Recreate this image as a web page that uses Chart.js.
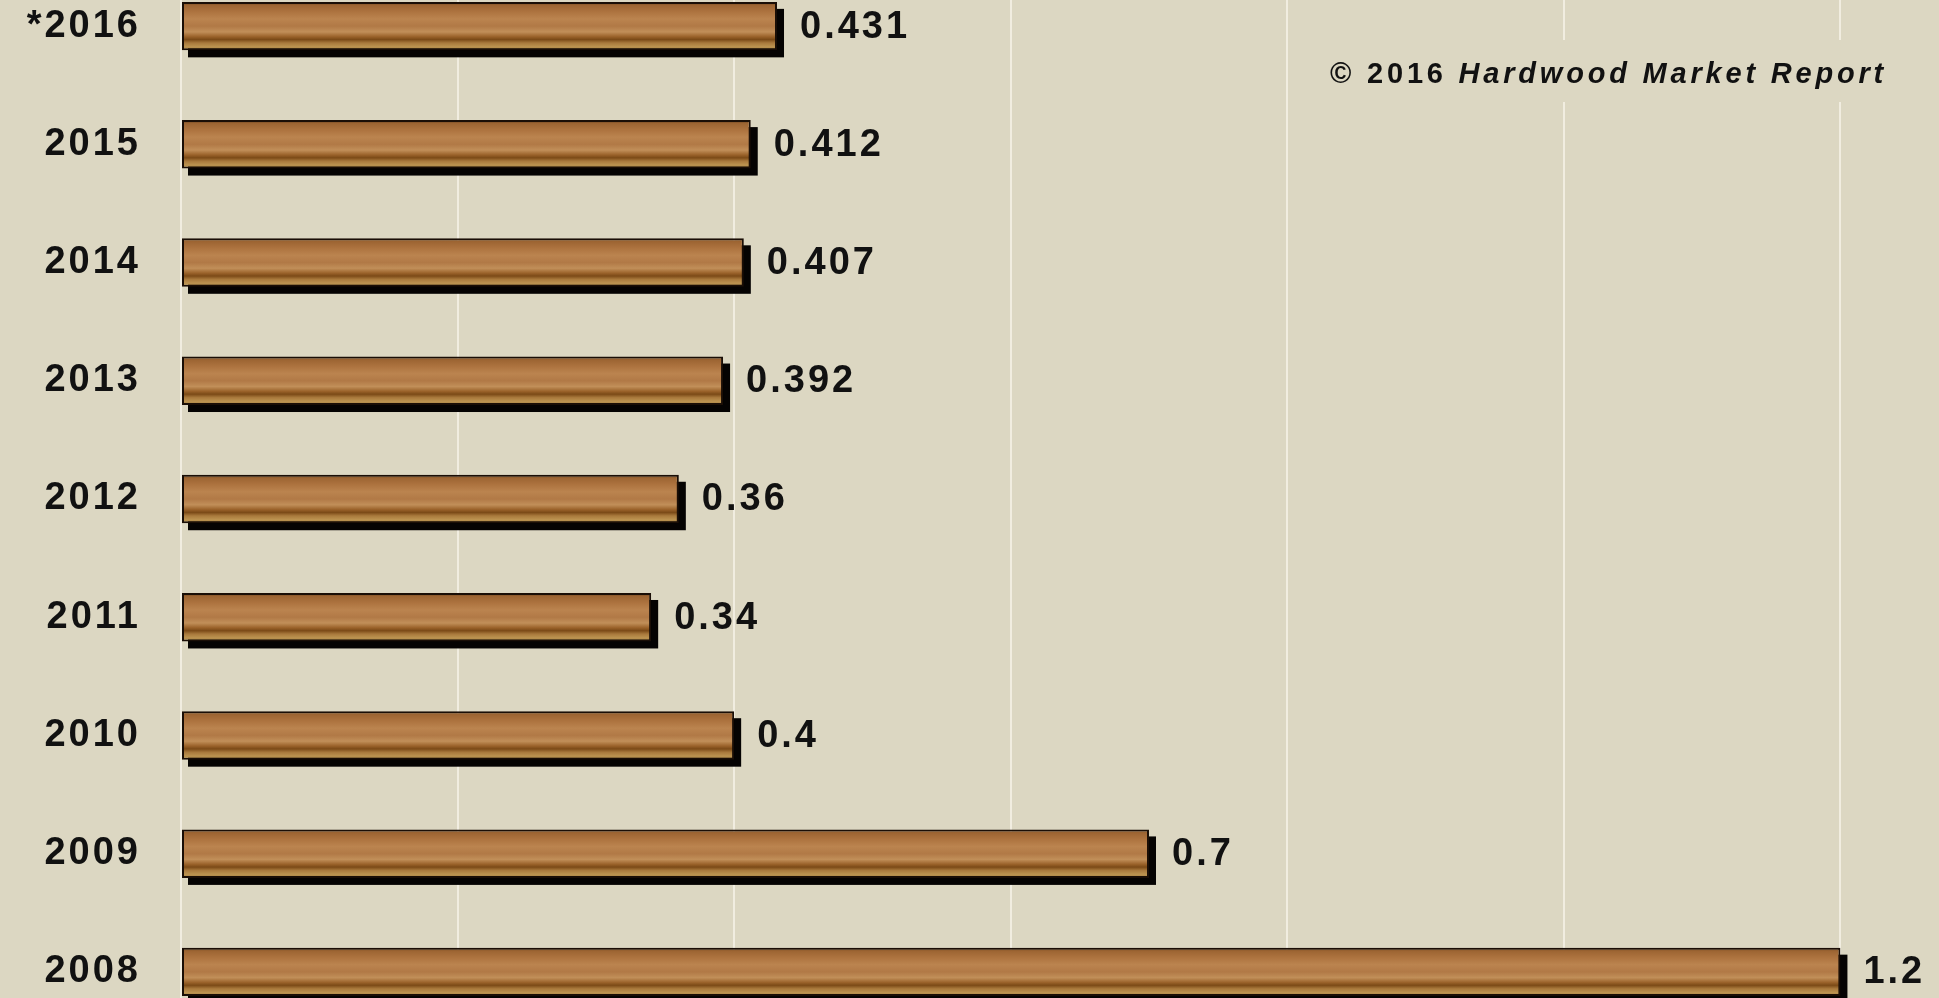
<!DOCTYPE html>
<html>
<head>
<meta charset="utf-8">
<script src="https://cdn.jsdelivr.net/npm/chart.js@4/dist/chart.umd.min.js"></script>
<style>
  html, body { margin: 0; padding: 0; background: #dcd7c2; overflow: hidden; width: 1939px; height: 998px; }
  #wrap { position: absolute; left: 0; top: -33px; width: 2117px; height: 1064px; }
</style>
</head>
<body>
<div id="wrap"><canvas id="bar_chart"></canvas></div>
<script>
const years = ['*2016', '2015', '2014', '2013', '2012', '2011', '2010', '2009', '2008'];
const amounts = [0.431, 0.412, 0.407, 0.392, 0.36, 0.34, 0.4, 0.7, 1.2];
const axisMin = 0;
const axisMax = 1.4;
const axisStep = 0.2;
const copyrightYear = '\u00A9 2016 ';
const copyrightName = 'Hardwood Market Report';

const BG = '#dcd7c2';
const FONT = '"Liberation Sans", Arial, sans-serif';

const woodFill = (ctx) => {
    const chart = ctx.chart;
    if(!chart.chartArea) return '#b07840';
    const y = chart.scales.y.getPixelForValue(ctx.dataIndex);
    const g = chart.ctx.createLinearGradient(0, y - 24, 0, y + 24);
    g.addColorStop(0, '#5c3818');
    g.addColorStop(0.06, '#9c6432');
    g.addColorStop(0.2, '#ad733f');
    g.addColorStop(0.35, '#bb844f');
    g.addColorStop(0.5, '#b17946');
    g.addColorStop(0.62, '#c18f59');
    g.addColorStop(0.72, '#9a622a');
    g.addColorStop(0.78, '#7b4a17');
    g.addColorStop(0.85, '#a9793c');
    g.addColorStop(0.93, '#bc9350');
    g.addColorStop(1, '#a78243');
    return g;
};

// black offset block behind each board, then values and copyright on top
const boardPlugin = {
    id: 'boards',
    beforeUpdate(chart) { chart.ctx.letterSpacing = '3px'; },
    beforeDraw(chart) { chart.ctx.letterSpacing = '3px'; },
    beforeDatasetsDraw(chart) {
        const c = chart.ctx;
        const meta = chart.getDatasetMeta(0);
        c.save();
        c.fillStyle = '#050302';
        meta.data.forEach((bar) => {
            const p = bar.getProps(['x', 'y', 'base', 'height'], true);
            c.fillRect(p.base + 6, p.y - p.height / 2 + 7, p.x - p.base + 1, p.height);
        });
        c.restore();
    },
    afterDatasetsDraw(chart) {
        const c = chart.ctx;
        c.save();
        c.letterSpacing = '3px';
        c.font = 'bold 38px ' + FONT;
        c.fillStyle = '#111';
        c.textAlign = 'left';
        c.textBaseline = 'middle';
        const meta = chart.getDatasetMeta(0);
        meta.data.forEach((bar, i) => {
            c.fillText(String(amounts[i]), bar.x + 23, bar.y + 1);
        });
        c.restore();
    },
    afterDraw(chart) {
        const c = chart.ctx;
        c.save();
        c.fillStyle = BG;
        c.fillRect(1318, 73, 590, 62);
        c.letterSpacing = '3.8px';
        c.fillStyle = '#111';
        c.textBaseline = 'alphabetic';
        let x = 1330;
        const y = 33 + 83;
        c.font = 'bold 29px ' + FONT;
        c.fillText(copyrightYear, x, y);
        x += c.measureText(copyrightYear).width;
        c.font = 'italic bold 29px ' + FONT;
        c.fillText(copyrightName, x, y);
        c.restore();
    }
};

const data = {
    labels: years,
    datasets: [{
        data: amounts,
        backgroundColor: woodFill,
        borderColor: '#1a0e06',
        borderWidth: 2,
        borderSkipped: false,
        barPercentage: 0.82,
        categoryPercentage: 0.5
    }]
};

const config = {
    type: 'bar',
    data: data,
    options: {
        indexAxis: 'y',
        responsive: true,
        maintainAspectRatio: false,
        animation: false,
        layout: { padding: 0 },
        plugins: {
            legend: { display: false },
            tooltip: { enabled: false }
        },
        scales: {
            x: {
                min: axisMin,
                max: axisMax,
                ticks: { display: false, stepSize: axisStep },
                grid: { color: '#f1ede0', lineWidth: 2, drawTicks: false },
                border: { display: false },
                afterFit(scale) { scale.height = 0; }
            },
            y: {
                ticks: {
                    color: '#111',
                    padding: 40,
                    font: { family: FONT, size: 38, weight: 'bold' }
                },
                grid: { display: false, drawTicks: false },
                border: { display: false },
                afterFit(scale) {
                    scale.width = 181;
                    scale.paddingTop = 0;
                    scale.paddingBottom = 0;
                }
            }
        }
    },
    plugins: [boardPlugin]
};

const myChart = new Chart(document.getElementById('bar_chart'), config);
</script>
</body>
</html>
